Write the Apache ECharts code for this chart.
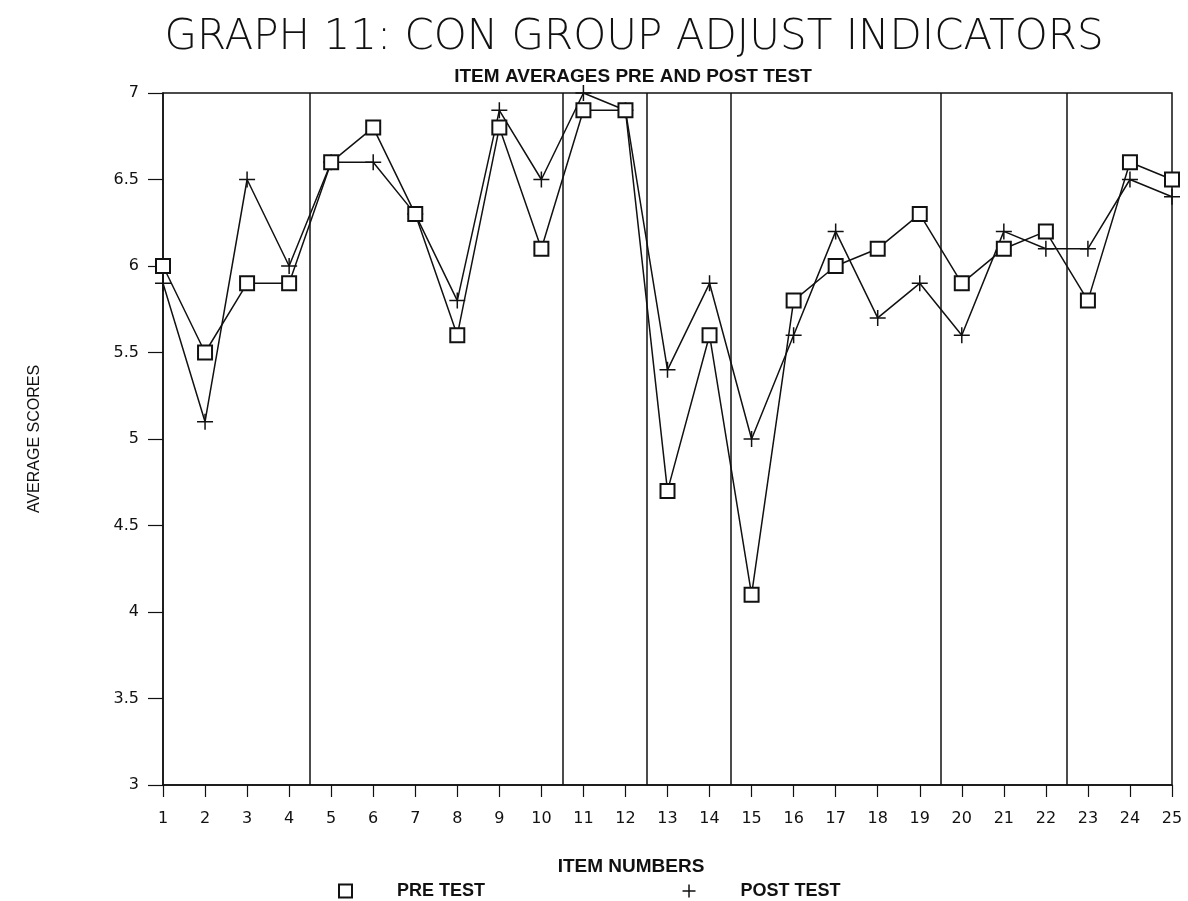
<!DOCTYPE html>
<html><head><meta charset="utf-8">
<script src="https://cdn.jsdelivr.net/npm/echarts@6/dist/echarts.min.js"></script>
<style>html,body{margin:0;padding:0;background:#fff}#c{width:1188px;height:901px}</style>
</head><body><div id="c"></div>
<script>
const items = [1,2,3,4,5,6,7,8,9,10,11,12,13,14,15,16,17,18,19,20,21,22,23,24,25];
const preTest  = [6.0,5.5,5.9,5.9,6.6,6.8,6.3,5.6,6.8,6.1,6.9,6.9,4.7,5.6,4.1,5.8,6.0,6.1,6.3,5.9,6.1,6.2,5.8,6.6,6.5];
const postTest = [5.9,5.1,6.5,6.0,6.6,6.6,6.3,5.8,6.9,6.5,7.0,6.9,5.4,5.9,5.0,5.6,6.2,5.7,5.9,5.6,6.2,6.1,6.1,6.5,6.4];
const groupBreaks = [4.5,10.5,12.5,14.5,19.5,22.5];
const yTicks = [3,3.5,4,4.5,5,5.5,6,6.5,7];

const FONT = '"DejaVu Sans", "Liberation Sans", sans-serif';
const SMALL = '"Liberation Sans", sans-serif';
const plus = 'path://M0,5L10,5M5,0L5,10';
const chart = echarts.init(document.getElementById('c'));
chart.setOption({
  animation:false,
  backgroundColor:'#fff',
  title:[
    {text:'GRAPH 11: CON GROUP ADJUST INDICATORS', left:629, top:12, textAlign:'center',
     textStyle:{fontFamily:FONT, fontWeight:200, fontSize:42, color:'#111'}},
    {text:'ITEM AVERAGES PRE AND POST TEST', left:628, top:62, textAlign:'center',
     textStyle:{fontFamily:SMALL, fontWeight:'bold', fontSize:19, color:'#111'}},
    {text:'ITEM NUMBERS', left:626, top:852, textAlign:'center',
     textStyle:{fontFamily:SMALL, fontWeight:'bold', fontSize:19, color:'#111'}}
  ],
  legend:{
    left:333, top:877, itemWidth:13, itemHeight:13, itemGap:195,
    textStyle:{fontFamily:SMALL, fontWeight:'bold', fontSize:18, color:'#111', padding:[0,0,0,40]},
    data:[
      {name:'PRE TEST', icon:'emptyRect', itemStyle:{color:'#111', borderColor:'#111', borderWidth:1.5}},
      {name:'POST TEST', icon:plus, itemStyle:{color:'none', borderColor:'#111', borderWidth:1.5}}
    ]
  },
  grid:{left:163, right:16, top:93, bottom:116, show:true, borderColor:'#111', borderWidth:1.5, backgroundColor:'transparent'},
  xAxis:{
    type:'value', min:1, max:25, interval:1,
    axisLine:{lineStyle:{color:'#111', width:1.5}},
    axisTick:{show:true, length:12, inside:false, lineStyle:{color:'#111', width:1.2}},
    axisLabel:{margin:26, fontFamily:FONT, fontSize:16, color:'#111'},
    splitLine:{show:false}
  },
  yAxis:{
    type:'value', min:yTicks[0], max:yTicks[yTicks.length-1], interval:0.5,
    name:'AVERAGE SCORES', nameLocation:'middle', nameGap:120, nameRotate:90,
    nameTextStyle:{fontFamily:SMALL, fontSize:16, color:'#111'},
    axisLine:{show:true, lineStyle:{color:'#111', width:1.5}},
    axisTick:{show:true, length:15, lineStyle:{color:'#111', width:1.2}},
    axisLabel:{margin:24, fontFamily:FONT, fontSize:16, color:'#111'},
    splitLine:{show:false}
  },
  series:[
    {name:'PRE TEST', type:'line', data:items.map((x,i)=>[x,preTest[i]]),
     symbol:'emptyRect', symbolSize:14,
     lineStyle:{color:'#111', width:1.5},
     itemStyle:{color:'#111', borderWidth:1.5},
     markLine:{silent:true, symbol:'none', label:{show:false},
       lineStyle:{color:'#111', width:1.5, type:'solid'},
       data:groupBreaks.map(v=>({xAxis:v}))},
     z:3},
    {name:'POST TEST', type:'line', data:items.map((x,i)=>[x,postTest[i]]),
     symbol:plus, symbolSize:16,
     lineStyle:{color:'#111', width:1.5},
     itemStyle:{color:'none', borderColor:'#111', borderWidth:1.5},
     z:2}
  ]
});
</script>
</body></html>
